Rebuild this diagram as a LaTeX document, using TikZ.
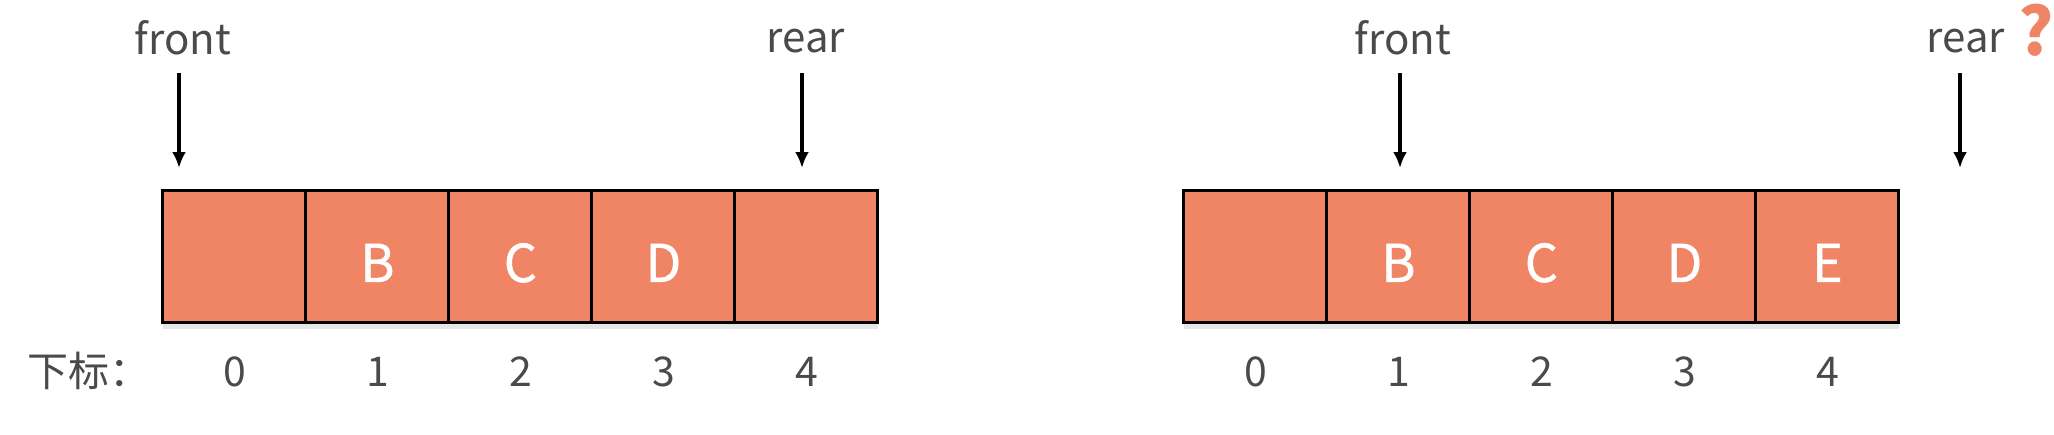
\documentclass[tikz,border=0pt]{standalone}
\usepackage{fontspec}
\setmainfont{Noto Sans CJK SC}
\newfontfamily\cellfont{Noto Sans CJK SC}[FakeBold=1]
\usepackage{xcolor}
\usepackage{tikz}
\usetikzlibrary{
  matrix,
  positioning,
  arrows.meta,
  shadows
}
\definecolor{slotfill}{HTML}{F08566}
\definecolor{labelgray}{HTML}{4A4A4A}

\begin{document}
\begin{tikzpicture}[x=0.5pt, y=-0.5pt,
    cell/.style={draw, fill=slotfill, line width=1.5pt, rectangle, inner sep=0pt, outer sep=0pt,
      minimum width=71.5pt, minimum height=66pt, text=white, text height=25pt, text depth=0pt,
      font=\cellfont\fontsize{26}{26}\selectfont,
      drop shadow={shadow xshift=0pt, shadow yshift=-3pt, opacity=.2}},
    idx/.style={rectangle, inner sep=0pt, outer sep=0pt, minimum width=71.5pt, minimum height=54pt,
      text height=1.45ex, text depth=0pt, text=labelgray, font=\fontsize{20.5}{20.5}\selectfont},
    ptrlabel/.style={anchor=base, inner sep=0pt, text=labelgray, font=\fontsize{21}{21}\selectfont},
    ptr/.style={line width=1.7pt, -{Latex[length=8pt, width=7pt]}}]
\useasboundingbox (0,0) rectangle (2054,434);

% left queue
\matrix (lq) [ampersand replacement=\&, inner sep=0pt, column sep=-1.5pt, row sep=0pt, anchor=north west] at (161,189)
{
\node [cell] (lc0) {}; \& \node [cell] (lc1) {B}; \& \node [cell] (lc2) {C}; \& \node [cell] (lc3) {D}; \& \node [cell] (lc4) {}; \\
\node [idx] (li0) {0}; \& \node [idx] (li1) {1}; \& \node [idx] (li2) {2}; \& \node [idx] (li3) {3}; \& \node [idx] (li4) {4}; \\
};
\node [idx, minimum width=0pt, left=6pt of li0] (lidx) {下标：};

\node [ptrlabel] (lfront) at (183,54) {front};
\node [ptrlabel] (lrear) at (806,52) {rear};
\coordinate (lfronttail) at (179,73);
\coordinate (lfronthead) at (179,168);
\coordinate (lreartail) at (802,73);
\coordinate (lrearhead) at (802,168);
\draw [ptr] (lfronttail) -- (lfronthead);
\draw [ptr] (lreartail) -- (lrearhead);

% right queue
\matrix (rq) [ampersand replacement=\&, inner sep=0pt, column sep=-1.5pt, row sep=0pt, anchor=north west] at (1182,189)
{
\node [cell] (rc0) {}; \& \node [cell] (rc1) {B}; \& \node [cell] (rc2) {C}; \& \node [cell] (rc3) {D}; \& \node [cell] (rc4) {E}; \\
\node [idx] (ri0) {0}; \& \node [idx] (ri1) {1}; \& \node [idx] (ri2) {2}; \& \node [idx] (ri3) {3}; \& \node [idx] (ri4) {4}; \\
};

\node [ptrlabel] (rfront) at (1403,54) {front};
\node [ptrlabel] (rrear) at (1966,52) {rear};
\node [ptrlabel, text=slotfill, font=\fontsize{33}{33}\selectfont\bfseries] (rquery) at (2036,55) {?};
\coordinate (rfronttail) at (1400,73);
\coordinate (rfronthead) at (1400,168);
\coordinate (rreartail) at (1960,73);
\coordinate (rrearhead) at (1960,168);
\draw [ptr] (rfronttail) -- (rfronthead);
\draw [ptr] (rreartail) -- (rrearhead);
\end{tikzpicture}
\end{document}
